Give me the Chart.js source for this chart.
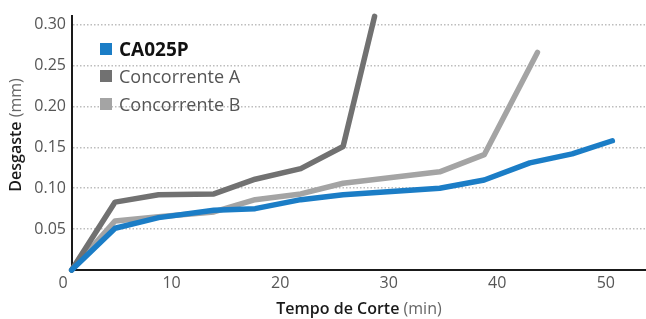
<!DOCTYPE html>
<html>
<head>
<meta charset="utf-8">
<script src="https://cdn.jsdelivr.net/npm/chart.js@4.4.0/dist/chart.umd.min.js"></script>
<style>
  body { margin: 0; background: #fff; font-family: "Open Sans", sans-serif; }
  #wrap { position: relative; width: 646px; height: 319px; }
  #legend { position: absolute; left: 100px; top: 35px; }
  .row { display: flex; align-items: center; height: 27.5px; font-size: 18px; color: #555; white-space: nowrap; }
  .row.main { font-size: 19px; font-weight: 700; color: #111; }
  .sw { width: 12px; height: 12px; margin-right: 7px; }
  .title { position: absolute; width: 220px; height: 22px; line-height: 22px; text-align: center; font-size: 16px; color: #666; white-space: nowrap; }
  .title b { font-weight: 600; color: #1a1a1a; }
  #xtitle { left: 249px; top: 297px; }
  #ytitle { left: -95px; top: 124px; transform: rotate(-90deg); }
</style>
</head>
<body>
<div id="wrap">
  <canvas id="myChart" width="646" height="319"></canvas>
  <div id="legend"></div>
  <div class="title" id="xtitle"><b>Tempo de Corte</b> (min)</div>
  <div class="title" id="ytitle"><b>Desgaste</b> (mm)</div>
</div>
<script>
var seriesNames = ['CA025P', 'Concorrente A', 'Concorrente B'];
var seriesColors = ['#1b7dc6', '#717171', '#a4a4a4'];

// tempo de corte (min) e desgaste (mm) de cada série
var caTime = [0.8, 4.8, 8.8, 13.9, 17.7, 21.9, 25.8, 34.7, 38.8, 43.0, 46.9, 50.6];
var caWear = [0, 0.051, 0.064, 0.073, 0.075, 0.086, 0.092, 0.100, 0.110, 0.131, 0.142, 0.158];
var aTime = [0.8, 4.8, 8.8, 13.9, 17.7, 21.9, 25.8, 28.7];
var aWear = [0, 0.083, 0.092, 0.093, 0.111, 0.124, 0.151, 0.310];
var bTime = [0.8, 4.8, 8.8, 13.9, 17.7, 21.9, 25.8, 34.7, 38.8, 43.7];
var bWear = [0, 0.060, 0.065, 0.071, 0.086, 0.093, 0.106, 0.120, 0.141, 0.266];

var xTicks = [0, 10, 20, 30, 40, 50];
var yTicks = [0.05, 0.10, 0.15, 0.20, 0.25, 0.30];

var times = [caTime, aTime, bTime];
var wears = [caWear, aWear, bWear];

function toPoints(t, w) {
    var pts = [];
    for (var i = 0; i < t.length; i++) {
        pts.push({ x: t[i], y: w[i] });
    }
    return pts;
}

var datasets = seriesNames.map(function (name, i) {
    return {
        label: name,
        data: toPoints(times[i], wears[i]),
        borderColor: seriesColors[i],
        borderWidth: 5.5,
        borderCapStyle: 'round',
        borderJoinStyle: 'round',
        pointRadius: 0,
        tension: 0,
        clip: false
    };
});

// legend inside the plot
var legend = document.getElementById('legend');
seriesNames.forEach(function (name, i) {
    var row = document.createElement('div');
    row.className = i === 0 ? 'row main' : 'row';
    var sw = document.createElement('span');
    sw.className = 'sw';
    sw.style.background = seriesColors[i];
    row.appendChild(sw);
    row.appendChild(document.createTextNode(name));
    legend.appendChild(row);
});

var tickFont = { family: 'Open Sans', size: 16 };

var ctx = document.getElementById('myChart').getContext('2d');
var chart = new Chart(ctx, {
    type: 'line',
    data: { datasets: datasets },
    options: {
        responsive: false,
        animation: false,
        layout: { padding: { top: 12, left: 0, right: 0, bottom: 0 } },
        plugins: {
            legend: { display: false },
            tooltip: { enabled: false }
        },
        scales: {
            x: {
                type: 'linear',
                bounds: 'data',
                min: 0.83,
                max: 53.7,
                afterBuildTicks: function (s) {
                    s.ticks = xTicks.map(function (v) { return { value: v }; });
                },
                afterFit: function (s) { s.height = 49; },
                ticks: {
                    autoSkip: false,
                    maxRotation: 0,
                    padding: 4,
                    color: '#555',
                    font: tickFont,
                    callback: function (v) { return String(v); }
                },
                grid: { display: false, drawTicks: false },
                border: { color: '#1a1a1a', width: 2 }
            },
            y: {
                min: 0,
                max: 0.311,
                afterBuildTicks: function (s) {
                    s.ticks = yTicks.map(function (v) { return { value: v }; });
                },
                afterFit: function (s) { s.width = 72; },
                ticks: {
                    padding: 6,
                    color: '#555',
                    font: tickFont,
                    callback: function (v) { return v.toFixed(2); }
                },
                grid: { color: '#bdbdbd', lineWidth: 1.5, drawTicks: false },
                border: { color: '#1a1a1a', width: 2, dash: [1.5, 2] }
            }
        }
    }
});
</script>
</body>
</html>
